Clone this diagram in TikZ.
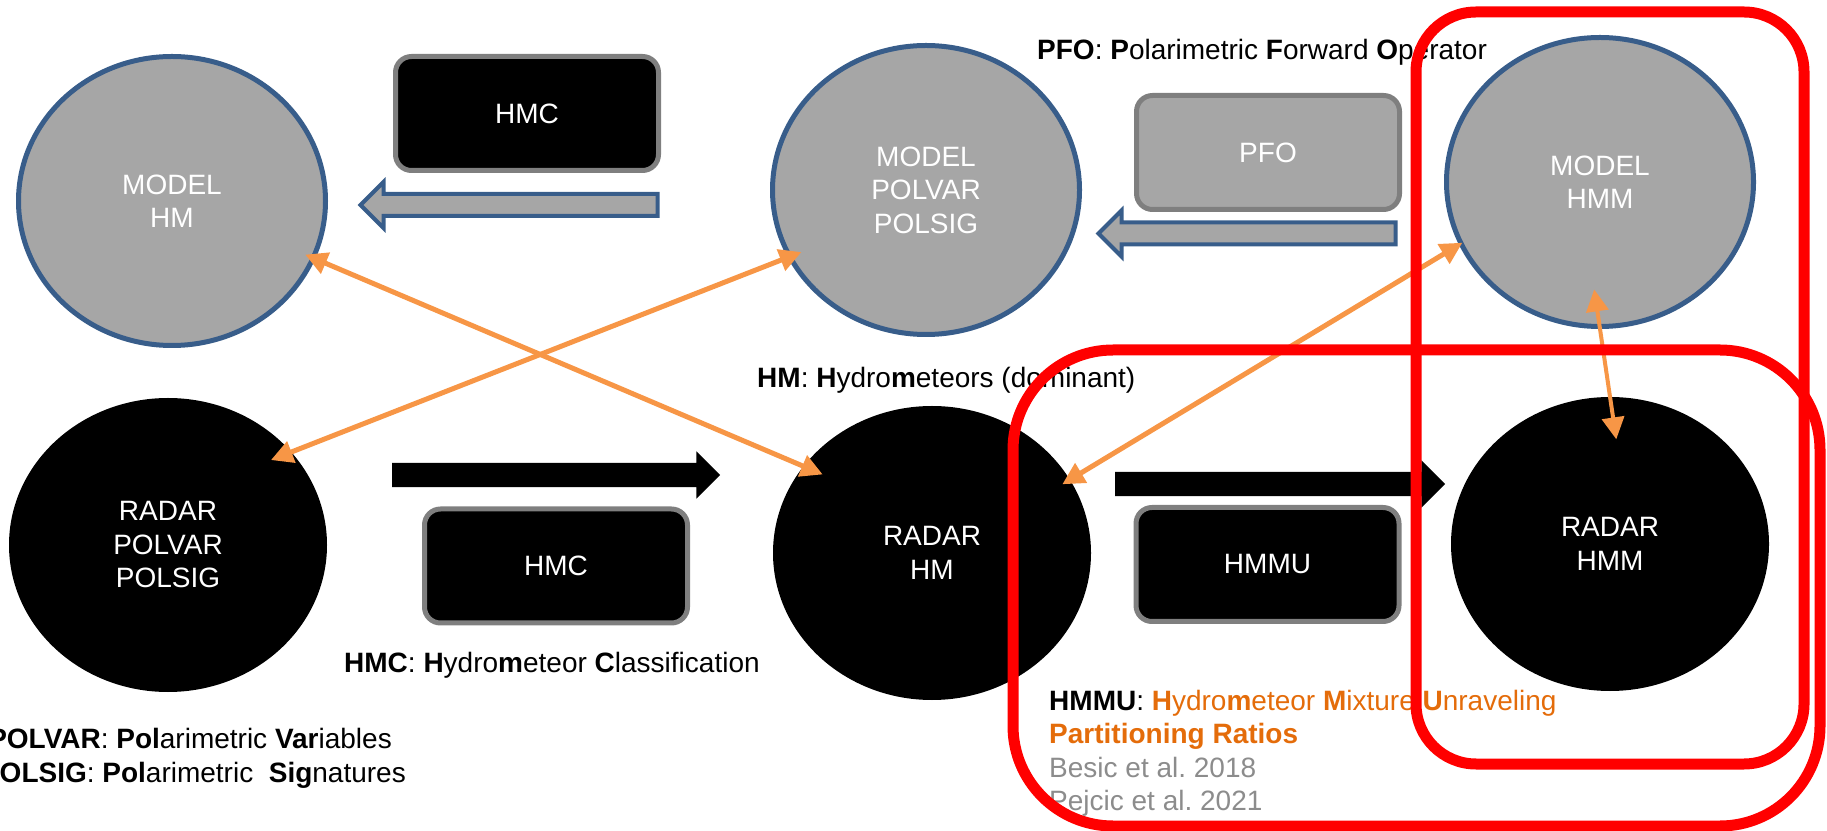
\documentclass[tikz,border=0pt]{standalone}
\usepackage{fontspec}
\setmainfont{Liberation Sans}
\usetikzlibrary{shapes.geometric,shapes.arrows,arrows.meta}

\definecolor{modelgray}{HTML}{A6A6A6}
\definecolor{modelblue}{HTML}{385D8A}
\definecolor{boxgray}{HTML}{7F7F7F}
\definecolor{linkorange}{HTML}{F79646}
\definecolor{textorange}{HTML}{E46C0A}
\definecolor{refgray}{HTML}{8C8C8C}

\begin{document}
\frenchspacing
\begin{tikzpicture}[x=1pt,y=1pt,
  font=\fontsize{28}{33.5}\selectfont,
  model/.style={ellipse,draw=modelblue,line width=5pt,fill=modelgray,text=white,
    minimum width=307pt,minimum height=289pt,align=center},
  radar/.style={ellipse,fill=black,text=white,minimum width=318pt,minimum height=294pt,align=center},
  algo/.style={rectangle,rounded corners=16pt,draw=boxgray,line width=5pt,text=white,
    minimum width=263pt,minimum height=114pt},
  hollowarr/.style={single arrow,draw=modelblue,fill=modelgray,line width=4pt,
    inner xsep=0pt,inner ysep=9pt,single arrow head extend=12pt,shape border rotate=180},
  blockarr/.style={single arrow,fill=black,inner xsep=0pt,inner ysep=12pt,single arrow head extend=11.5pt},
  link/.style={draw=linkorange,line width=5pt,>={Triangle[length=22pt,width=22pt]},<->},
  note/.style={inner sep=0pt},
  redframe/.style={draw=red,line width=11pt}
]
\useasboundingbox (0,0) rectangle (1827,830);

% model side
\node[model] (mhm) at (172,629) {MODEL\\HM};
\node[model] (mpol) at (926,640) {MODEL\\POLVAR\\POLSIG};
\node[model] (mhmm) at (1600,648) {MODEL\\HMM};

% radar side
\node[radar] (rpol) at (168,285) {RADAR\\POLVAR\\POLSIG};
\node[radar] (rhm) at (932,277) {RADAR\\HM};
\node[radar] (rhmm) at (1610,286) {RADAR\\HMM};

% methods
\node[algo,fill=black] (hmcm) at (527,716.5) {HMC};
\node[algo,fill=modelgray] (pfo) at (1268,677.5) {PFO};
\node[algo,fill=black] (hmcr) at (556,264) {HMC};
\node[algo,fill=black] (hmmu) at (1267.5,265.5) {HMMU};

\node[hollowarr,minimum height=297pt] (pfoarr) at (1252.5,596.5) {};
\node[hollowarr,minimum height=297pt] (hmcarr) at (514.5,625) {};
\node[blockarr,minimum height=328pt] (hmcrarr) at (550,355) {};
\node[blockarr,minimum height=330pt] (hmmuarr) at (1274,346) {};

% comparisons
\draw[link,shorten <=-11pt,shorten >=-21pt] (mhm.338) -- (rhm.146);
\draw[link,shorten <=-22pt,shorten >=-15pt] (rpol.37) -- (mpol.206);
\draw[link,shorten <=-9pt,shorten >=-4pt] (rhm.28) -- (mhmm.204);
\draw[link,line width=4pt,shorten <=-40pt,shorten >=-43pt] (mhmm.south) -- (rhmm.north);

% abbreviations
\node[note,anchor=base west] (pfotxt) at (1037,770.5)
  {\textbf{PFO}: \textbf{P}olarimetric \textbf{F}orward \textbf{O}perator};
\node[note,anchor=base west] (hmtxt) at (757,442)
  {\textbf{HM}: \textbf{H}ydro\textbf{m}eteors (dominant)};
\node[note,anchor=base west] (hmctxt) at (344,158)
  {\textbf{HMC}: \textbf{H}ydro\textbf{m}eteor \textbf{C}lassification};
\node[note,anchor=base east] (polvartxt) at (392,82)
  {\textbf{POLVAR}: \textbf{Pol}arimetric \textbf{Var}iables};
\node[note,anchor=base east] (polsigtxt) at (406,48)
  {\textbf{POLSIG}: \textbf{Pol}arimetric\ \ \textbf{Sig}natures};
\node[note,anchor=north west,align=left,font=\fontsize{28}{33.3}\selectfont] (hmmutxt) at (1049,140)
  {\textbf{HMMU}: \textcolor{textorange}{\textbf{H}ydro\textbf{m}eteor \textbf{M}ixture \textbf{U}nraveling}\\
   \textcolor{textorange}{\textbf{Partitioning Ratios}}\\
   \textcolor{refgray}{Besic et al. 2018}\\
   \textcolor{refgray}{Pejcic et al. 2021}};

% highlighted parts
\draw[redframe,rounded corners=60pt] (1416,66) rectangle (1804,818);
\draw[redframe,rounded corners=100pt] (1013,4) rectangle (1820,480);

\end{tikzpicture}
\end{document}
